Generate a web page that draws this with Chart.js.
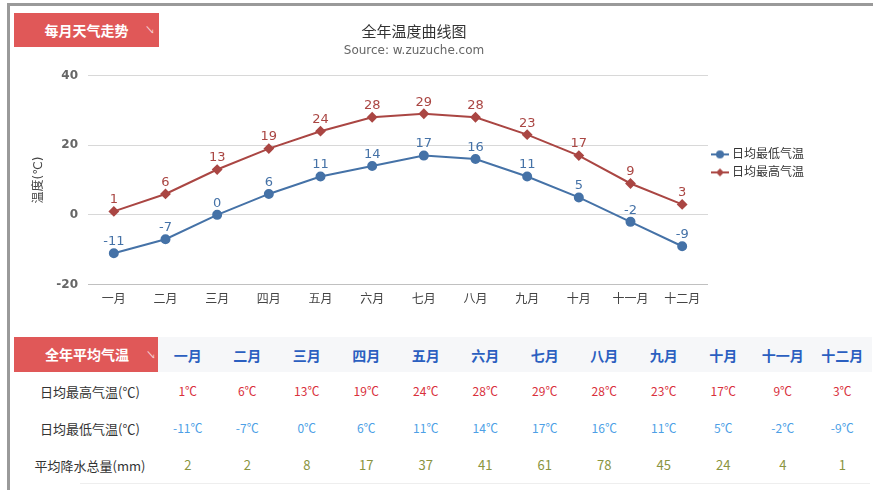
<!DOCTYPE html>
<html>
<head>
<meta charset="utf-8">
<script src="https://cdn.jsdelivr.net/npm/chart.js@4"></script>
<style>
  body { margin: 0; background: #fff; font-family: 'Noto Sans CJK SC', sans-serif; }
  #page { position: absolute; left: 7px; top: 3px; width: 880px; height: 500px;
          border-top: 3px solid #9a9a9a; border-left: 3px solid #9a9a9a; }
  .tag { position: absolute; background: #e05858; color: #fff; font-size: 14px; font-weight: bold;
         text-align: center; box-sizing: border-box; }
  .tag span { position: absolute; right: 4px; bottom: 0px; font-size: 10px; font-weight: normal; color: #f6d0d0; }
  #chartBox { position: absolute; left: 14px; top: 8px; width: 800px; height: 305px; }
  #tbl { position: absolute; left: 158px; top: 337px; border-collapse: collapse; }
  #tbl td { width: 59.5px; padding: 0; text-align: center; }
  #rowNames { position: absolute; left: 20px; top: 373px; width: 140px; }
  #rowNames div { height: 37px; line-height: 37px; font-size: 13px; color: #333; text-align: center; }
  #line { position: absolute; left: 80px; top: 483px; width: 790px; border-top: 1px solid #eee; }
</style>
</head>
<body>
<div id="page"></div>
<div class="tag" style="left:14px;top:13px;width:145px;height:34px;line-height:34px;">每月天气走势<span>↘</span></div>
<div id="chartBox"><canvas id="chart"></canvas></div>
<div class="tag" style="left:14px;top:337px;width:146px;height:35px;line-height:35px;">全年平均气温<span>↘</span></div>
<table id="tbl"><tbody id="tb"></tbody></table>
<div id="rowNames">
  <div>日均最高气温(℃)</div>
  <div>日均最低气温(℃)</div>
  <div>平均降水总量(mm)</div>
</div>
<div id="line"></div>
<script>
const months = ['一月', '二月', '三月', '四月', '五月', '六月', '七月', '八月', '九月', '十月', '十一月', '十二月'];
const lowTemps = [-11, -7, 0, 6, 11, 14, 17, 16, 11, 5, -2, -9];
const highTemps = [1, 6, 13, 19, 24, 28, 29, 28, 23, 17, 9, 3];
const rainfall = [2, 2, 8, 17, 37, 41, 61, 78, 45, 24, 4, 1];
const yTicks = [-20, 0, 20, 40];

const BLUE = '#4572a7';
const RED = '#aa4643';
const FONT = "'DejaVu Sans', 'Noto Sans CJK SC', sans-serif";

// table below the chart
const tb = document.getElementById('tb');
function addRow(vals, color, h, size, bold, bg) {
  const tr = document.createElement('tr');
  vals.forEach(v => {
    const td = document.createElement('td');
    td.textContent = v;
    td.style.cssText = `height:${h}px;color:${color};font-size:${size}px;` +
      (bold ? 'font-weight:bold;' : '') + (bg ? `background:${bg};` : '');
    tr.appendChild(td);
  });
  tb.appendChild(tr);
}
addRow(months, '#2b5fc0', 35, 14, true, '#f6f7f9');
addRow(highTemps.map(v => v + '℃'), '#d9303c', 37, 12);
addRow(lowTemps.map(v => v + '℃'), '#4d9fe6', 37, 12);
addRow(rainfall, '#8a9440', 37, 13);

// legend icons: line + marker like the original
function icon(color, diamond) {
  const c = document.createElement('canvas');
  c.width = 18; c.height = 10;
  const g = c.getContext('2d');
  g.strokeStyle = color; g.lineWidth = 2;
  g.beginPath(); g.moveTo(0, 5); g.lineTo(18, 5); g.stroke();
  g.fillStyle = color; g.beginPath();
  if (diamond) { g.moveTo(9, 1); g.lineTo(13, 5); g.lineTo(9, 9); g.lineTo(5, 5); }
  else g.arc(9, 5, 4, 0, Math.PI * 2);
  g.fill();
  return c;
}

const valueLabels = {
  id: 'valueLabels',
  afterDatasetsDraw(chart) {
    const ctx = chart.ctx;
    ctx.save();
    ctx.font = '13px ' + FONT;
    ctx.textAlign = 'center';
    ctx.textBaseline = 'bottom';
    chart.data.datasets.forEach((ds, i) => {
      ctx.fillStyle = ds.borderColor;
      chart.getDatasetMeta(i).data.forEach((pt, j) => {
        ctx.fillText(ds.data[j], pt.x, pt.y - 5);
      });
    });
    ctx.restore();
  }
};

new Chart(document.getElementById('chart'), {
  type: 'line',
  data: {
    labels: months,
    datasets: [
      { label: '日均最低气温', data: lowTemps, borderColor: BLUE, backgroundColor: BLUE,
        borderWidth: 2, pointRadius: 4, pointStyle: 'circle', pointHoverRadius: 4 },
      { label: '日均最高气温', data: highTemps, borderColor: RED, backgroundColor: RED,
        borderWidth: 2, pointRadius: 4, pointStyle: 'rectRot', pointHoverRadius: 4 }
    ]
  },
  options: {
    responsive: true,
    maintainAspectRatio: false,
    animation: false,
    layout: { padding: { left: 0, right: 0, top: 0, bottom: 6 } },
    plugins: {
      title: { display: true, text: '全年温度曲线图', color: '#333',
        font: { family: FONT, size: 15, weight: 'normal' }, padding: { top: 16, bottom: 0 } },
      subtitle: { display: true, text: 'Source: w.zuzuche.com', color: '#666',
        font: { family: FONT, size: 12 }, padding: { top: 2, bottom: 17 } },
      legend: {
        position: 'right', align: 'start',
        title: { display: true, text: ' ', padding: { top: 120, bottom: 0 } },
        labels: {
          color: '#333', font: { family: FONT, size: 12 }, usePointStyle: true, padding: 6,
          generateLabels: chart => chart.data.datasets.map((ds, i) => ({
            text: ds.label, pointStyle: icon(ds.borderColor, i === 1),
            fontColor: '#333', datasetIndex: i, lineWidth: 0, strokeStyle: 'transparent'
          }))
        }
      },
      tooltip: { enabled: false }
    },
    scales: {
      x: {
        offset: true,
        grid: { display: false },
        border: { display: true, color: '#c0c0c0' },
        ticks: { color: '#444', font: { family: FONT, size: 12 }, maxRotation: 0, autoSkip: false, padding: 0 }
      },
      y: {
        min: -20, max: 40,
        afterBuildTicks: s => { s.ticks = yTicks.map(v => ({ value: v })); },
        afterFit: s => { s.width = 74; },
        grid: { color: '#d8d8d8', drawTicks: false },
        border: { display: false },
        ticks: { color: '#666', font: { family: FONT, size: 12, weight: 'bold' }, padding: 10 },
        title: { display: true, text: '温度(℃)', color: '#444', font: { family: FONT, size: 12 }, padding: { top: 18, bottom: 0 } }
      }
    }
  },
  plugins: [valueLabels]
});
</script>
</body>
</html>
